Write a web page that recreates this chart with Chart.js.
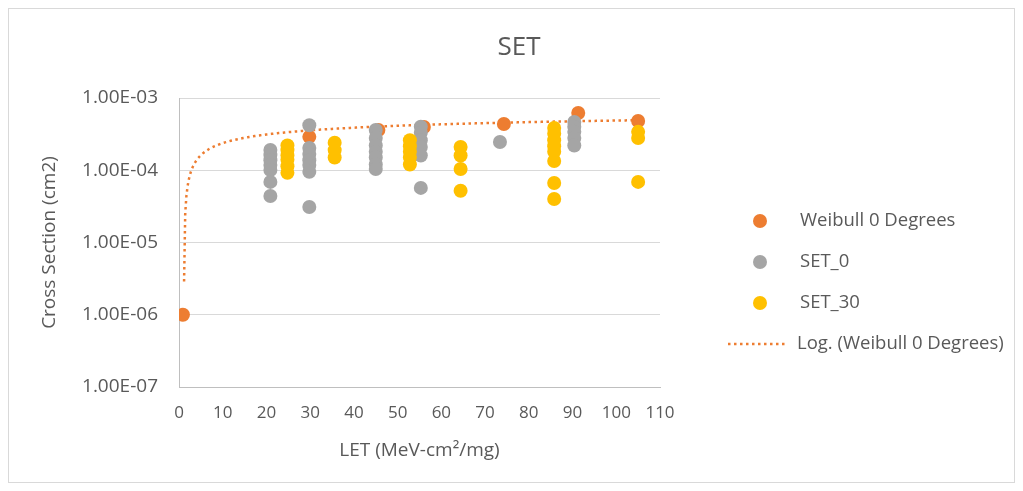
<!DOCTYPE html>
<html>
<head>
<meta charset="utf-8">
<script src="https://cdn.jsdelivr.net/npm/chart.js@4.4.1/dist/chart.umd.min.js"></script>
<style>
  html, body { margin: 0; padding: 0; background: #ffffff; }
  #wrap { width: 1023px; height: 491px; position: relative; }
</style>
</head>
<body>
<div id="wrap"><canvas id="c" width="1023" height="491"></canvas></div>
<script>
// ---- text ----
const chartTitle = 'SET';
const xAxisTitle = 'LET (MeV-cm²/mg)';
const yAxisTitle = 'Cross Section (cm2)';

// ---- tick labels ----
const xTickValues = [0, 10, 20, 30, 40, 50, 60, 70, 80, 90, 100, 110];
const yTickValues = [1e-7, 1e-6, 1e-5, 1e-4, 1e-3];

// ---- Weibull 0 Degrees ----
const weibullLET = [0.9, 29.8, 45.6, 56.0, 74.3, 91.3, 105.0];
const weibullXS  = [1.0e-6, 2.9e-4, 3.6e-4, 3.97e-4, 4.37e-4, 6.2e-4, 4.8e-4];

// ---- SET_0 ----
const set0LET = [20.9, 20.9, 20.9, 20.9, 20.9, 20.9, 20.9,
                 29.8, 29.8, 29.8, 29.8, 29.8, 29.8, 29.8,
                 45.0, 45.0, 45.0, 45.0, 45.0, 45.0, 45.0,
                 55.3, 55.3, 55.3, 55.3, 55.3, 55.3,
                 73.4,
                 90.4, 90.4, 90.4, 90.4, 90.4];
const set0XS  = [1.91e-4, 1.62e-4, 1.38e-4, 1.18e-4, 1.01e-4, 6.9e-5, 4.4e-5,
                 4.2e-4, 2.03e-4, 1.68e-4, 1.38e-4, 1.18e-4, 9.5e-5, 3.1e-5,
                 3.6e-4, 2.8e-4, 2.2e-4, 1.8e-4, 1.5e-4, 1.2e-4, 1.04e-4,
                 4.0e-4, 3.3e-4, 2.6e-4, 2.1e-4, 1.6e-4, 5.7e-5,
                 2.46e-4,
                 4.65e-4, 4.0e-4, 3.4e-4, 2.8e-4, 2.2e-4];

// ---- SET_30 ----
const set30LET = [24.8, 24.8, 24.8, 24.8, 24.8, 24.8,
                  35.6, 35.6, 35.6,
                  52.8, 52.8, 52.8, 52.8, 52.8,
                  64.4, 64.4, 64.4, 64.4,
                  85.8, 85.8, 85.8, 85.8, 85.8, 85.8, 85.8, 85.8,
                  105.0, 105.0, 105.0];
const set30XS  = [2.2e-4, 1.9e-4, 1.6e-4, 1.4e-4, 1.14e-4, 9.2e-5,
                  2.4e-4, 1.9e-4, 1.5e-4,
                  2.6e-4, 2.15e-4, 1.8e-4, 1.5e-4, 1.2e-4,
                  2.1e-4, 1.6e-4, 1.04e-4, 5.2e-5,
                  3.84e-4, 3.2e-4, 2.6e-4, 2.15e-4, 1.8e-4, 1.34e-4, 6.65e-5, 4.0e-5,
                  3.4e-4, 2.8e-4, 6.9e-5];

// ---- styling ----
const ORANGE = '#ED7D31';
const GRAY = '#A5A5A5';
const GOLD = '#FFC000';
const TEXT = '#595959';
const FONT = "'Open Sans', 'Noto Sans', sans-serif";

const toPoints = (xs, ys) => xs.map((x, i) => ({ x: x, y: ys[i] }));

// Logarithmic trendline y = a*ln(x) + b, least-squares fit of the Weibull series
function logTrend(xs, ys, steps) {
  const lx = xs.map(Math.log);
  const n = xs.length;
  const mx = lx.reduce((s, v) => s + v, 0) / n;
  const my = ys.reduce((s, v) => s + v, 0) / n;
  let sxy = 0, sxx = 0;
  for (let i = 0; i < n; i++) {
    sxy += (lx[i] - mx) * (ys[i] - my);
    sxx += (lx[i] - mx) * (lx[i] - mx);
  }
  const a = sxy / sxx;
  const b = my - a * mx;
  const x0 = Math.min(...xs), x1 = Math.max(...xs);
  const pts = [];
  for (let k = 0; k <= steps; k++) {
    const x = x0 + (x1 - x0) * k / steps;
    const y = a * Math.log(x) + b;
    if (y > 0) pts.push({ x: x, y: y });
  }
  return pts;
}

function sciLabel(v) {
  const e = Math.round(Math.log10(v));
  const m = v / Math.pow(10, e);
  const sign = e < 0 ? '-' : '+';
  const ae = Math.abs(e);
  return m.toFixed(2) + 'E' + sign + (ae < 10 ? '0' + ae : '' + ae);
}

// Frame, chart title and legend drawn on the canvas
const decorations = {
  id: 'decorations',
  beforeDraw(chart) {
    const ctx = chart.ctx;
    ctx.save();
    ctx.fillStyle = '#ffffff';
    ctx.fillRect(0, 0, chart.width, chart.height);
    ctx.strokeStyle = '#d9d9d9';
    ctx.lineWidth = 1;
    ctx.strokeRect(8.5, 8.5, chart.width - 17, chart.height - 17);
    ctx.restore();
  },
  afterDraw(chart) {
    const ctx = chart.ctx;
    ctx.save();
    ctx.fillStyle = TEXT;
    ctx.textAlign = 'center';
    ctx.textBaseline = 'middle';
    ctx.font = "26px " + FONT;
    ctx.fillText(chartTitle, 519, 48);

    const items = chart.data.datasets;
    const rowY = [221, 262, 303, 344];
    ctx.font = "18.5px " + FONT;
    ctx.textAlign = 'left';
    items.forEach((ds, i) => {
      const y = rowY[i];
      if (ds.showLine) {
        ctx.save();
        ctx.strokeStyle = ds.borderColor;
        ctx.lineWidth = ds.borderWidth;
        ctx.setLineDash(ds.borderDash);
        ctx.beginPath();
        ctx.moveTo(728, y);
        ctx.lineTo(788, y);
        ctx.stroke();
        ctx.restore();
      } else {
        ctx.beginPath();
        ctx.fillStyle = ds.backgroundColor;
        ctx.arc(760, y, 7, 0, Math.PI * 2);
        ctx.fill();
      }
      ctx.fillStyle = TEXT;
      ctx.fillText(ds.label, ds.showLine ? 797 : 800, y);
    });
    ctx.restore();
  }
};

new Chart(document.getElementById('c'), {
  type: 'scatter',
  data: {
    datasets: [
      { label: 'Weibull 0 Degrees', data: toPoints(weibullLET, weibullXS),
        backgroundColor: ORANGE, borderWidth: 0, pointRadius: 7, order: 2 },
      { label: 'SET_0', data: toPoints(set0LET, set0XS),
        backgroundColor: GRAY, borderWidth: 0, pointRadius: 7, order: 1 },
      { label: 'SET_30', data: toPoints(set30LET, set30XS),
        backgroundColor: GOLD, borderWidth: 0, pointRadius: 7, order: 0 },
      { label: 'Log. (Weibull 0 Degrees)', data: logTrend(weibullLET, weibullXS, 400),
        showLine: true, borderColor: ORANGE, borderWidth: 2.5, borderDash: [2.5, 3.5],
        pointRadius: 0, fill: false, tension: 0, order: 3 }
    ]
  },
  options: {
    responsive: false,
    animation: false,
    events: [],
    layout: { padding: { top: 98, right: 363, bottom: 0, left: 0 } },
    plugins: { legend: { display: false }, tooltip: { enabled: false }, title: { display: false } },
    scales: {
      x: {
        type: 'linear', min: 0, max: 110,
        afterBuildTicks: s => { s.ticks = xTickValues.map(v => ({ value: v })); },
        afterFit: s => { s.height = 104; },
        grid: { display: false, drawTicks: false },
        border: { display: true, color: '#bfbfbf', width: 1 },
        ticks: { padding: 16, color: TEXT, font: { family: FONT, size: 17 }, maxRotation: 0 },
        title: { display: true, text: xAxisTitle, color: TEXT, font: { family: FONT, size: 19 },
                 padding: { top: 0, bottom: 29 } }
      },
      y: {
        type: 'logarithmic', min: 1e-7, max: 1e-3,
        afterBuildTicks: s => { s.ticks = yTickValues.map(v => ({ value: v })); },
        afterFit: s => { s.width = 179; },
        grid: { color: '#d9d9d9', drawTicks: false, lineWidth: 1 },
        border: { display: true, color: '#bfbfbf', width: 1 },
        ticks: { padding: 21, color: TEXT, font: { family: FONT, size: 19 }, callback: v => sciLabel(v) },
        title: { display: true, text: yAxisTitle, color: TEXT, font: { family: FONT, size: 19 },
                 padding: { top: 38, bottom: 0 } }
      }
    }
  },
  plugins: [decorations]
});
</script>
</body>
</html>
